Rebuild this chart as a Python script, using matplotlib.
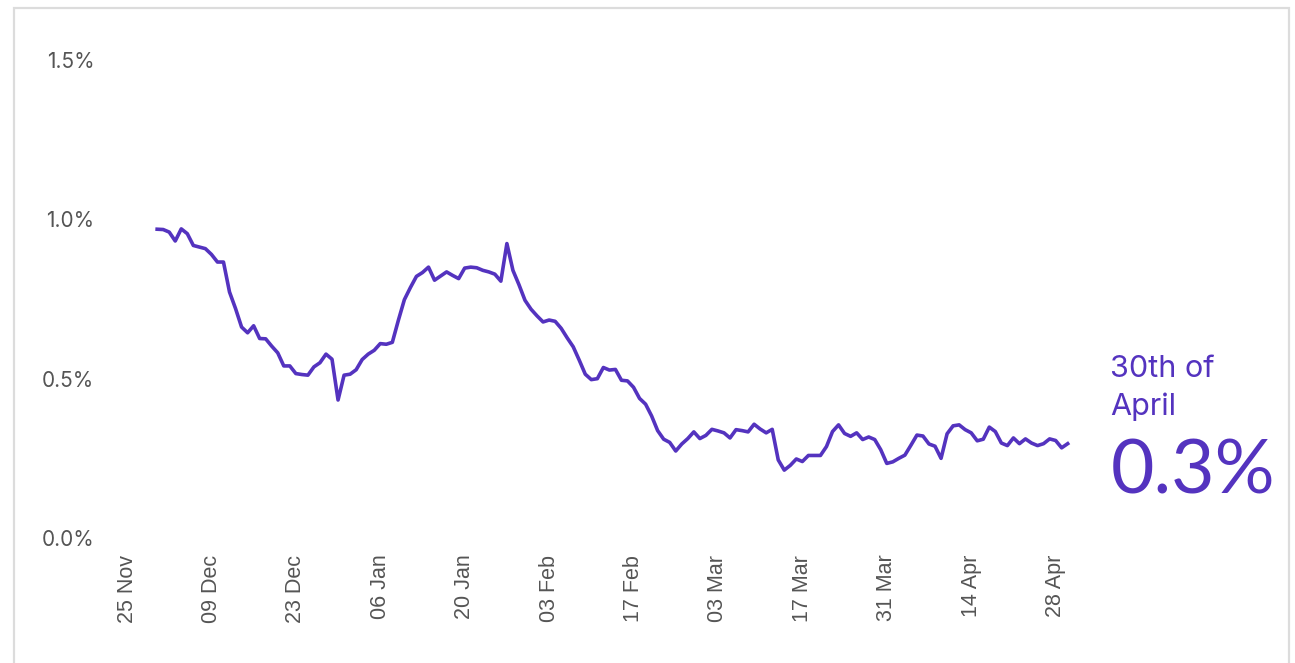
import matplotlib
matplotlib.use("Agg")
import matplotlib.pyplot as plt
import matplotlib.dates as mdates
from matplotlib.patches import Rectangle
from datetime import date, timedelta

# daily share (%), 30 Nov 2020 - 30 Apr 2021
start_date = date(2020, 11, 30)
values = [
    0.969, 0.968, 0.960, 0.932, 0.970, 0.955, 0.918, 0.913, 0.908, 0.890,
    0.866, 0.866, 0.772, 0.720, 0.662, 0.644, 0.666, 0.626, 0.625, 0.602,
    0.581, 0.540, 0.540, 0.516, 0.513, 0.511, 0.537, 0.550, 0.577, 0.561,
    0.433, 0.511, 0.514, 0.528, 0.560, 0.577, 0.589, 0.610, 0.608, 0.614,
    0.683, 0.748, 0.786, 0.821, 0.833, 0.850, 0.809, 0.822, 0.835, 0.824,
    0.814, 0.847, 0.850, 0.848, 0.840, 0.835, 0.828, 0.806, 0.924, 0.840,
    0.795, 0.746, 0.718, 0.697, 0.678, 0.684, 0.680, 0.658, 0.628, 0.600,
    0.558, 0.514, 0.497, 0.500, 0.535, 0.527, 0.529, 0.495, 0.493, 0.473,
    0.438, 0.420, 0.383, 0.337, 0.310, 0.300, 0.273, 0.295, 0.312, 0.333,
    0.312, 0.322, 0.341, 0.336, 0.330, 0.314, 0.340, 0.337, 0.333, 0.357,
    0.342, 0.330, 0.341, 0.245, 0.213, 0.228, 0.248, 0.240, 0.259, 0.259,
    0.259, 0.287, 0.334, 0.355, 0.328, 0.319, 0.330, 0.309, 0.317, 0.309,
    0.277, 0.234, 0.239, 0.250, 0.260, 0.291, 0.323, 0.320, 0.295, 0.288,
    0.250, 0.327, 0.352, 0.355, 0.340, 0.330, 0.305, 0.310, 0.348, 0.334,
    0.298, 0.290, 0.314, 0.296, 0.311, 0.298, 0.290, 0.296, 0.311, 0.306,
    0.283, 0.296,
]
dates = [start_date + timedelta(days=i) for i in range(len(values))]

tick_dates = [date(2020, 11, 25) + timedelta(days=14 * i) for i in range(12)]
y_ticks = [0.0, 0.5, 1.0, 1.5]
y_labels = ["0.0%", "0.5%", "1.0%", "1.5%"]

label_line1 = "30th of"
label_line2 = "April"
label_value = "0.3%"

purple = "#5433BF"
grey = "#555555"

W, H = 1295, 663
fig = plt.figure(figsize=(W / 100, H / 100), dpi=100)

# axes placed in pixels: left 100, right 1080, bottom 538, top 60
ax = fig.add_axes([100 / W, (H - 538) / H, 980 / W, 478 / H])
ax.plot(dates, values, color=purple, linewidth=2.6, solid_joinstyle="round")

# 25 Nov tick sits at x=127, ~6.03 px per day
x0 = mdates.date2num(date(2020, 11, 25))
ax.set_xlim(x0 - 27 / 6.03, x0 + 953 / 6.03)
ax.set_ylim(0, 1.5)

ax.set_xticks(tick_dates)
ax.xaxis.set_major_formatter(mdates.DateFormatter("%d %b"))
ax.set_yticks(y_ticks)
ax.set_yticklabels(y_labels)

for lbl in ax.get_xticklabels():
    lbl.set_rotation(90)
    lbl.set_fontfamily("Liberation Sans")
    lbl.set_fontsize(15.5)
    lbl.set_color(grey)
for lbl in ax.get_yticklabels():
    lbl.set_fontfamily("Inter")
    lbl.set_fontsize(15)
    lbl.set_color(grey)

ax.tick_params(axis="both", length=0)
ax.tick_params(axis="x", pad=12)
ax.tick_params(axis="y", pad=4)
for s in ax.spines.values():
    s.set_visible(False)

# light frame around the card
fig.patches.append(Rectangle((14 / W, -0.05), 1275 / W, 1.05 - 8 / H,
                             transform=fig.transFigure, fill=False,
                             edgecolor="#dcdcdc", linewidth=1.6))

fig.text(1110 / W, (H - 377) / H, label_line1, color=purple, fontsize=22,
         family="Inter", va="baseline", ha="left")
fig.text(1110 / W, (H - 415) / H, label_line2, color=purple, fontsize=22,
         family="Inter", va="baseline", ha="left")
fig.text(1111 / W, (H - 494) / H, label_value, color=purple, fontsize=54,
         family="Lato", va="baseline", ha="left")

plt.savefig("out.png", dpi=100)
